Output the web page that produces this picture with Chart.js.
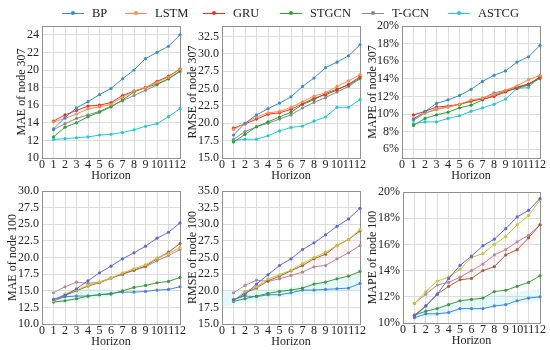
<!DOCTYPE html>
<html>
<head>
<meta charset="utf-8">
<script src="https://cdn.jsdelivr.net/npm/chart.js@4.4.0/dist/chart.umd.min.js"></script>
<style>
body { margin: 0; background: #fff; }
#wrap { position: relative; width: 550px; height: 350px; overflow: hidden; background: #fff;
        font-family: 'Liberation Serif', 'Times New Roman', serif; }
#wrap canvas { position: absolute; }
.leg { position: absolute; top: 6px; height: 14px; display: flex; align-items: center; font-size: 12.5px; color: #222; }
.leg .ln { position: relative; width: 22px; height: 0; border-top: 1px solid; margin-right: 8px; }
.leg .dot { position: absolute; left: 9px; top: -3px; width: 4px; height: 4px; border-radius: 50%; }
</style>
</head>
<body>
<div id="wrap"></div>
<script>
const horizons = [1, 2, 3, 4, 5, 6, 7, 8, 9, 10, 11, 12];
const xTicks = [0, 1, 2, 3, 4, 5, 6, 7, 8, 9, 10, 11, 12];
const seriesNames = ['BP', 'LSTM', 'GRU', 'STGCN', 'T-GCN', 'ASTCG'];
const topColors = ['#3b8cc4', '#ff8a4c', '#e5312b', '#2f9e37', '#8a8a8a', '#26c6d6'];
const bottomColors = ['#5b68d6', '#c9c23e', '#a5613c', '#3d9a3d', '#b08a98', '#4b86d6'];

// series order: BP, LSTM, GRU, STGCN, T-GCN, ASTCG
const mae307 = [
    [13.3, 14.6, 15.7, 16.4, 17.2, 17.9, 19.0, 20.0, 21.3, 22.0, 22.7, 24.0],
    [14.1, 14.5, 15.0, 15.6, 15.8, 16.1, 16.9, 17.6, 18.0, 18.6, 19.2, 20.1],
    [14.2, 14.9, 15.4, 15.9, 16.0, 16.3, 17.1, 17.6, 18.0, 18.7, 19.3, 20.1],
    [12.4, 13.5, 14.0, 14.7, 15.2, 15.8, 16.6, 17.5, 18.0, 18.4, 19.0, 19.9],
    [13.2, 13.9, 14.5, 14.9, 15.3, 15.9, 16.5, 17.1, 17.7, 18.3, 19.0, 19.8],
    [12.1, 12.2, 12.3, 12.4, 12.6, 12.7, 12.9, 13.2, 13.6, 13.9, 14.7, 15.6]
];
const rmse307 = [
    [18.3, 20.0, 21.2, 22.1, 22.9, 23.8, 25.3, 26.5, 28.0, 28.8, 29.7, 31.3],
    [19.1, 20.0, 20.9, 21.5, 21.7, 22.3, 23.1, 23.9, 24.4, 25.3, 26.1, 27.0],
    [19.3, 19.9, 20.6, 21.3, 21.5, 22.0, 22.8, 23.6, 24.1, 24.8, 25.6, 26.7],
    [17.3, 18.4, 19.5, 20.2, 20.9, 21.6, 22.7, 23.4, 24.3, 24.9, 25.5, 26.5],
    [17.7, 18.8, 19.5, 20.0, 20.6, 21.2, 22.2, 23.0, 23.7, 24.5, 25.3, 26.4],
    [17.5, 17.7, 17.7, 18.2, 18.9, 19.4, 19.6, 20.3, 20.9, 22.3, 22.3, 23.4]
];
const mape307 = [
    [9.4, 10.3, 11.2, 11.6, 12.1, 12.8, 13.7, 14.4, 14.9, 15.9, 16.5, 17.8],
    [9.5, 10.1, 10.6, 10.8, 11.1, 11.6, 11.8, 12.2, 12.7, 13.2, 13.9, 14.4],
    [9.9, 10.3, 10.8, 10.9, 11.1, 11.5, 11.7, 12.0, 12.5, 13.0, 13.4, 14.2],
    [8.7, 9.5, 9.9, 10.2, 10.7, 11.0, 11.6, 12.1, 12.6, 12.9, 13.3, 14.1],
    [9.3, 10.1, 10.5, 10.8, 11.1, 11.4, 11.8, 12.4, 12.7, 13.1, 13.4, 14.0],
    [8.9, 9.1, 9.1, 9.5, 9.8, 10.3, 10.7, 11.1, 11.7, 12.9, 13.0, 14.3]
];
const mae100 = [
    [13.7, 14.3, 15.3, 16.5, 17.7, 18.7, 19.8, 20.7, 21.7, 22.9, 23.8, 25.2],
    [13.5, 14.5, 15.1, 15.8, 16.3, 16.9, 17.7, 18.3, 18.9, 19.9, 20.6, 21.5],
    [13.5, 14.3, 15.0, 15.7, 16.2, 16.9, 17.5, 18.1, 18.7, 19.8, 20.8, 22.1],
    [13.3, 13.5, 13.8, 14.2, 14.4, 14.5, 15.0, 15.5, 15.8, 16.2, 16.4, 17.0],
    [14.7, 15.6, 16.3, 16.1, 16.3, 16.9, 17.5, 18.1, 18.6, 19.5, 20.3, 21.2],
    [13.5, 14.1, 14.2, 14.2, 14.4, 14.6, 14.8, 14.8, 14.9, 15.1, 15.2, 15.6]
];
const rmse100 = [
    [18.6, 19.4, 21.0, 22.4, 23.8, 24.8, 26.2, 27.2, 28.4, 29.7, 30.8, 32.4],
    [18.5, 19.9, 20.6, 21.8, 22.4, 23.1, 24.1, 25.0, 25.8, 26.8, 27.7, 29.2],
    [18.5, 19.7, 20.4, 21.5, 22.2, 23.0, 23.8, 24.8, 25.5, 26.8, 27.7, 29.0],
    [18.4, 18.8, 19.2, 19.6, 19.9, 20.1, 20.4, 21.0, 21.3, 21.8, 22.2, 22.9],
    [19.7, 20.8, 21.6, 21.4, 21.8, 22.3, 22.8, 23.6, 23.8, 24.8, 25.7, 26.8],
    [18.7, 19.2, 19.1, 19.4, 19.4, 19.7, 20.1, 20.1, 20.2, 20.3, 20.4, 21.1]
];
const mape100 = [
    [10.5, 11.3, 12.2, 13.4, 14.4, 15.1, 15.9, 16.4, 17.2, 18.1, 18.6, 19.5],
    [11.5, 12.4, 13.2, 13.5, 14.1, 15.0, 15.3, 16.0, 16.6, 17.5, 18.2, 19.4],
    [10.6, 11.3, 12.2, 12.8, 13.3, 13.4, 14.0, 14.3, 15.2, 15.6, 16.5, 17.5],
    [10.6, 10.9, 11.1, 11.4, 11.7, 11.8, 11.9, 12.4, 12.5, 12.8, 13.1, 13.6],
    [11.5, 12.2, 12.9, 13.1, 13.5, 14.0, 14.5, 15.2, 15.6, 16.2, 16.7, 17.5],
    [10.4, 10.7, 10.7, 10.8, 11.1, 11.1, 11.1, 11.3, 11.4, 11.7, 11.9, 12.0]
];

// shaded bands in the node 100 panels
const maeCyanX = [1, 3, 6], maeCyanLo = [13.1, 13.5, 14.1], maeCyanHi = [14.3, 15.2, 15.4];
const maePinkX = [3, 6, 9, 12], maePinkLo = [15.0, 16.8, 18.5, 20.9], maePinkHi = [15.4, 17.6, 19.3, 22.2];
const rmseCyanX = [0, 6, 12], rmseCyanLo = [17.6, 19.2, 20.0], rmseCyanHi = [19.9, 20.5, 22.5];
const rmsePinkX = [3, 6, 9, 12], rmsePinkLo = [20.6, 22.2, 23.8, 26.6], rmsePinkHi = [21.2, 23.2, 25.8, 29.0];
const mapeCyanX = [1, 6, 12], mapeCyanLo = [10.3, 10.9, 11.7], mapeCyanHi = [10.9, 11.9, 12.6];
const mapePinkX = [4, 8, 12], mapePinkLo = [13.0, 14.3, 16.5], mapePinkHi = [13.6, 15.3, 17.8];

const mae307Ticks = [10, 12, 14, 16, 18, 20, 22, 24];
const rmse307Ticks = [15, 17.5, 20, 22.5, 25, 27.5, 30, 32.5];
const mape307Ticks = [6, 8, 10, 12, 14, 16, 18, 20];
const mae100Ticks = [10, 12.5, 15, 17.5, 20, 22.5, 25, 27.5, 30];
const rmse100Ticks = [15, 17.5, 20, 22.5, 25, 27.5, 30, 32.5, 35];
const mape100Ticks = [10, 12, 14, 16, 18, 20];

const CYAN_FILL = 'rgba(150,232,238,0.25)';
const PINK_FILL = 'rgba(250,200,210,0.18)';

const fix1 = v => v.toFixed(1);
const pct = v => v + '%';

const panels = [
    { box: [42, 26, 180, 158], title: 'MAE of node 307', data: mae307, ticks: mae307Ticks, min: 10, max: 25, fmt: v => String(v), colors: topColors, yGap: 20, bands: [] },
    { box: [222, 26, 360, 158], title: 'RMSE of node 307', data: rmse307, ticks: rmse307Ticks, min: 15, max: 34, fmt: fix1, colors: topColors, yGap: 29, bands: [] },
    { box: [402, 26, 540, 158], title: 'MAPE of node 307', data: mape307, ticks: mape307Ticks, min: 5, max: 20, fmt: pct, colors: topColors, yGap: 29, bands: [] },
    { box: [42, 191, 180, 324], title: 'MAE of node 100', data: mae100, ticks: mae100Ticks, min: 10, max: 30, fmt: fix1, colors: bottomColors, yGap: 29,
      bands: [[maeCyanX, maeCyanLo, maeCyanHi, CYAN_FILL], [maePinkX, maePinkLo, maePinkHi, PINK_FILL]] },
    { box: [222, 191, 360, 324], title: 'RMSE of node 100', data: rmse100, ticks: rmse100Ticks, min: 15, max: 35, fmt: fix1, colors: bottomColors, yGap: 29,
      bands: [[rmseCyanX, rmseCyanLo, rmseCyanHi, CYAN_FILL], [rmsePinkX, rmsePinkLo, rmsePinkHi, PINK_FILL]] },
    { box: [403, 192, 540, 323], title: 'MAPE of node 100', data: mape100, ticks: mape100Ticks, min: 10, max: 20, fmt: pct, colors: bottomColors, yGap: 30,
      bands: [[mapeCyanX, mapeCyanLo, mapeCyanHi, CYAN_FILL], [mapePinkX, mapePinkLo, mapePinkHi, PINK_FILL]] }
];

const legendX = [62, 125, 203, 280, 362, 448];

const FONT = { family: "'Liberation Serif', 'Times New Roman', serif", size: 12 };
const Y_AXIS_W = 42, X_AXIS_H = 30, PAD_T = 12, PAD_R = 12;

const framePlugin = {
    id: 'frame',
    beforeDatasetsDraw(chart) {
        const a = chart.chartArea, ctx = chart.ctx;
        ctx.save();
        ctx.strokeStyle = '#909090';
        ctx.lineWidth = 1;
        ctx.strokeRect(Math.round(a.left) + 0.5, Math.round(a.top) + 0.5,
            Math.round(a.right - a.left), Math.round(a.bottom - a.top));
        ctx.restore();
    }
};

const wrap = document.getElementById('wrap');

function buildDatasets(p) {
    const sets = [];
    p.bands.forEach(([bx, lo, hi, color]) => {
        sets.push({ data: bx.map((x, i) => ({ x, y: lo[i] })), borderWidth: 0, pointRadius: 0, fill: false, order: 10 });
        sets.push({ data: bx.map((x, i) => ({ x, y: hi[i] })), borderWidth: 0, pointRadius: 0, fill: '-1', backgroundColor: color, order: 10 });
    });
    p.data.forEach((vals, s) => {
        sets.push({
            label: seriesNames[s],
            data: horizons.map((h, i) => ({ x: h, y: vals[i] })),
            borderColor: p.colors[s],
            backgroundColor: p.colors[s],
            borderWidth: 1,
            pointRadius: 1.6,
            pointBorderWidth: 0,
            fill: false,
            clip: 4,
            order: 0
        });
    });
    return sets;
}

function makePanel(p) {
    const [L, T, R, B] = p.box;
    const canvas = document.createElement('canvas');
    const cw = R - L + Y_AXIS_W + PAD_R, ch = B - T + PAD_T + X_AXIS_H;
    canvas.width = cw; canvas.height = ch;
    canvas.style.left = (L - Y_AXIS_W) + 'px';
    canvas.style.top = (T - PAD_T) + 'px';
    canvas.style.width = cw + 'px'; canvas.style.height = ch + 'px';
    wrap.appendChild(canvas);

    return new Chart(canvas, {
        type: 'line',
        data: { datasets: buildDatasets(p) },
        options: {
            responsive: false,
            devicePixelRatio: 1,
            animation: false,
            layout: { padding: { left: 0, top: PAD_T, right: PAD_R, bottom: 0 } },
            plugins: { legend: { display: false }, tooltip: { enabled: false } },
            scales: {
                x: {
                    type: 'linear', min: 0, max: 12,
                    afterFit: s => { s.height = X_AXIS_H; },
                    afterBuildTicks: s => { s.ticks = xTicks.map(v => ({ value: v })); },
                    grid: { color: '#dcdcdc', drawTicks: false },
                    border: { display: false },
                    ticks: { autoSkip: false, maxRotation: 0, padding: 0, color: '#222', font: FONT, callback: v => String(v) },
                    title: { display: true, text: 'Horizon', color: '#222', font: FONT, padding: { top: 0, bottom: 4.6 } }
                },
                y: {
                    type: 'linear', min: p.min, max: p.max,
                    afterFit: s => { s.width = Y_AXIS_W; },
                    afterBuildTicks: s => { s.ticks = p.ticks.map(v => ({ value: v })); },
                    grid: { color: '#dcdcdc', drawTicks: false },
                    border: { display: false },
                    ticks: { autoSkip: false, padding: 3, color: '#222', font: FONT, callback: v => p.fmt(v) },
                    title: { display: true, text: p.title, color: '#222', font: FONT, padding: { top: Y_AXIS_W - p.yGap - 7.2, bottom: 0 } }
                }
            }
        },
        plugins: [framePlugin]
    });
}

panels.forEach(makePanel);

seriesNames.forEach((name, i) => {
    const item = document.createElement('div');
    item.className = 'leg';
    item.style.left = legendX[i] + 'px';
    item.innerHTML = `<span class="ln" style="border-color:${topColors[i]}"><span class="dot" style="background:${topColors[i]}"></span></span><span>${name}</span>`;
    wrap.appendChild(item);
});
</script>
</body>
</html>
